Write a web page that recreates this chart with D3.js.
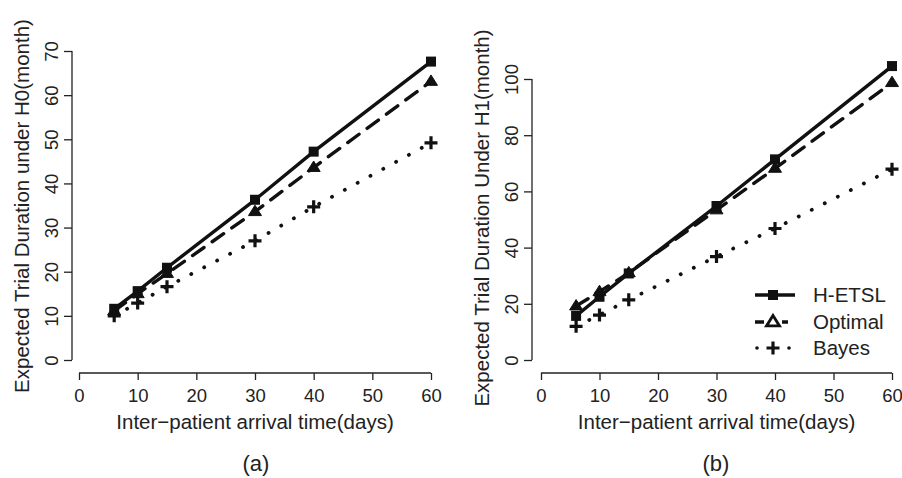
<!DOCTYPE html>
<html><head><meta charset="utf-8">
<script src="https://cdn.jsdelivr.net/npm/d3@7/dist/d3.min.js"></script>
<style>body{margin:0;background:#fff}svg{display:block}text{font-family:"Liberation Sans",Arial,sans-serif;fill:#222}</style>
</head><body><svg id="c" width="902" height="478"></svg>
<script>
const xVals = [6, 10, 15, 30, 40, 60];
const xTicks = [0, 10, 20, 30, 40, 50, 60];
const seriesNames = ["H-ETSL", "Optimal", "Bayes"];
const h0HETSL = [11.6, 15.6, 20.9, 36.3, 47.2, 67.6];
const h0Optimal = [11.1, 15.0, 19.6, 33.6, 43.6, 63.1];
const h0Bayes = [10.0, 12.9, 16.6, 27.0, 34.7, 49.2];
const h1HETSL = [15.7, 22.5, 30.8, 54.8, 71.4, 104.6];
const h1Optimal = [19.2, 24.3, 31.0, 53.4, 68.2, 98.7];
const h1Bayes = [12.0, 16.0, 21.4, 36.8, 46.8, 67.9];
const h0Ticks = [0, 10, 20, 30, 40, 50, 60, 70];
const h1Ticks = [0, 20, 40, 60, 80, 100];

const svg = d3.select("#c");
const FONT = '"Liberation Sans",Arial,sans-serif';
const styles = {
  "H-ETSL": {dash: null, marker: "square"},
  "Optimal": {dash: "14 10", marker: "triangle"},
  "Bayes": {dash: "0.1 14.5", marker: "plus"}
};

function marker(g, type, x, y, open) {
  if (type === "square") {
    g.append("rect").attr("x", x-5).attr("y", y-5).attr("width", 10).attr("height", 10).attr("fill", "#111");
  } else if (type === "triangle") {
    const s = 6.5;
    g.append("path").attr("d", `M${x},${y-s}L${x+s},${y+s*0.6}L${x-s},${y+s*0.6}Z`)
      .attr("fill", open ? "#fff" : "#111").attr("stroke", "#111").attr("stroke-width", open ? 2.8 : 1);
  } else {
    g.append("path").attr("d", `M${x-6.5},${y}H${x+6.5}M${x},${y-6.5}V${y+6.5}`).attr("stroke", "#111").attr("stroke-width", 3.2);
  }
}

function panel(cfg) {
  const g = svg.append("g");
  const x = d3.scaleLinear().domain([0, 60]).range(cfg.xr);
  const y = d3.scaleLinear().domain([0, cfg.ymax]).range([360, cfg.ytop]);
  const xa = g.append("g").attr("transform", "translate(0,373)")
    .call(d3.axisBottom(x).tickValues(xTicks).tickSize(7).tickPadding(6).tickFormat(d3.format("d")));
  xa.select(".domain").attr("d", `M${x(0)},0H${x(60)}`).attr("stroke", "#222").attr("stroke-width", 1.3);
  xa.selectAll(".tick line").attr("stroke", "#222").attr("stroke-width", 1.3);
  xa.selectAll("text").attr("font-size", 18.5).attr("fill", "#222").attr("dy", null).attr("y", 29).style("font-family", FONT);
  const ya = g.append("g").attr("transform", `translate(${cfg.yx},0)`)
    .call(d3.axisLeft(y).tickValues(cfg.ticks).tickSize(8).tickFormat(d3.format("d")));
  ya.select(".domain").attr("d", `M0,${y(0)}V${y(cfg.ticks[cfg.ticks.length-1])}`).attr("stroke", "#222").attr("stroke-width", 1.3);
  ya.selectAll(".tick line").attr("stroke", "#222").attr("stroke-width", 1.3);
  ya.selectAll(".tick text").attr("font-size", 18.5).attr("fill", "#222")
    .attr("x", null).attr("dy", null).attr("text-anchor", "middle")
    .attr("transform", "translate(-14,0) rotate(-90)")
    .style("font-family", FONT);
  g.append("text").attr("x", (x(0)+x(60))/2).attr("y", 429).attr("text-anchor", "middle").attr("font-size", 20.5).text("Inter\u2212patient arrival time(days)");
  g.append("text").attr("transform", `translate(${cfg.ylabX},${cfg.ylabY}) rotate(-90)`).attr("text-anchor", "middle").attr("font-size", 20.5).text(cfg.ylab);
  g.append("text").attr("x", cfg.capX).attr("y", 471).attr("text-anchor", "middle").attr("font-size", 22).text(cfg.cap);
  const line = d3.line().x((d, i) => x(xVals[i])).y(d => y(d));
  cfg.series.forEach((vals, k) => {
    const st = styles[seriesNames[k]];
    const p = g.append("path").attr("d", line(vals)).attr("fill", "none").attr("stroke", "#111")
      .attr("stroke-width", 3.4).attr("stroke-linecap", st.dash ? "round" : "butt");
    if (st.dash) p.attr("stroke-dasharray", st.dash);
    if (seriesNames[k] === "Bayes") p.attr("stroke-width", 3.8);
    vals.forEach((v, i) => marker(g, st.marker, x(xVals[i]), y(v), false));
  });
}

panel({xr: [79, 431], yx: 72, ymax: 70, ytop: 51, ticks: h0Ticks, series: [h0HETSL, h0Optimal, h0Bayes],
  ylab: "Expected Trial Duration under H0(month)", ylabX: 29, ylabY: 206, cap: "(a)", capX: 256});
panel({xr: [541, 892], yx: 532, ymax: 100, ytop: 79, ticks: h1Ticks, series: [h1HETSL, h1Optimal, h1Bayes],
  ylab: "Expected Trial Duration Under H1(month)", ylabX: 489, ylabY: 218, cap: "(b)", capX: 716});

const lg = svg.append("g");
const rows = [295, 322, 348];
seriesNames.forEach((n, k) => {
  const yy = rows[k];
  const st = styles[n];
  if (n === "H-ETSL") {
    lg.append("path").attr("d", `M755,${yy}H795`).attr("stroke", "#111").attr("stroke-width", 3.4);
  } else if (n === "Optimal") {
    lg.append("path").attr("d", `M755,${yy}H764M782,${yy}H788`).attr("stroke", "#111").attr("stroke-width", 3.4);
  } else {
    lg.append("circle").attr("cx", 757).attr("cy", yy).attr("r", 1.8).attr("fill", "#111");
    lg.append("circle").attr("cx", 789).attr("cy", yy).attr("r", 1.8).attr("fill", "#111");
  }
  marker(lg, st.marker, 773, yy, n === "Optimal");
  lg.append("text").attr("x", 813).attr("y", yy).attr("dy", "0.36em").attr("font-size", 20.5).text(n);
});
</script></body></html>
